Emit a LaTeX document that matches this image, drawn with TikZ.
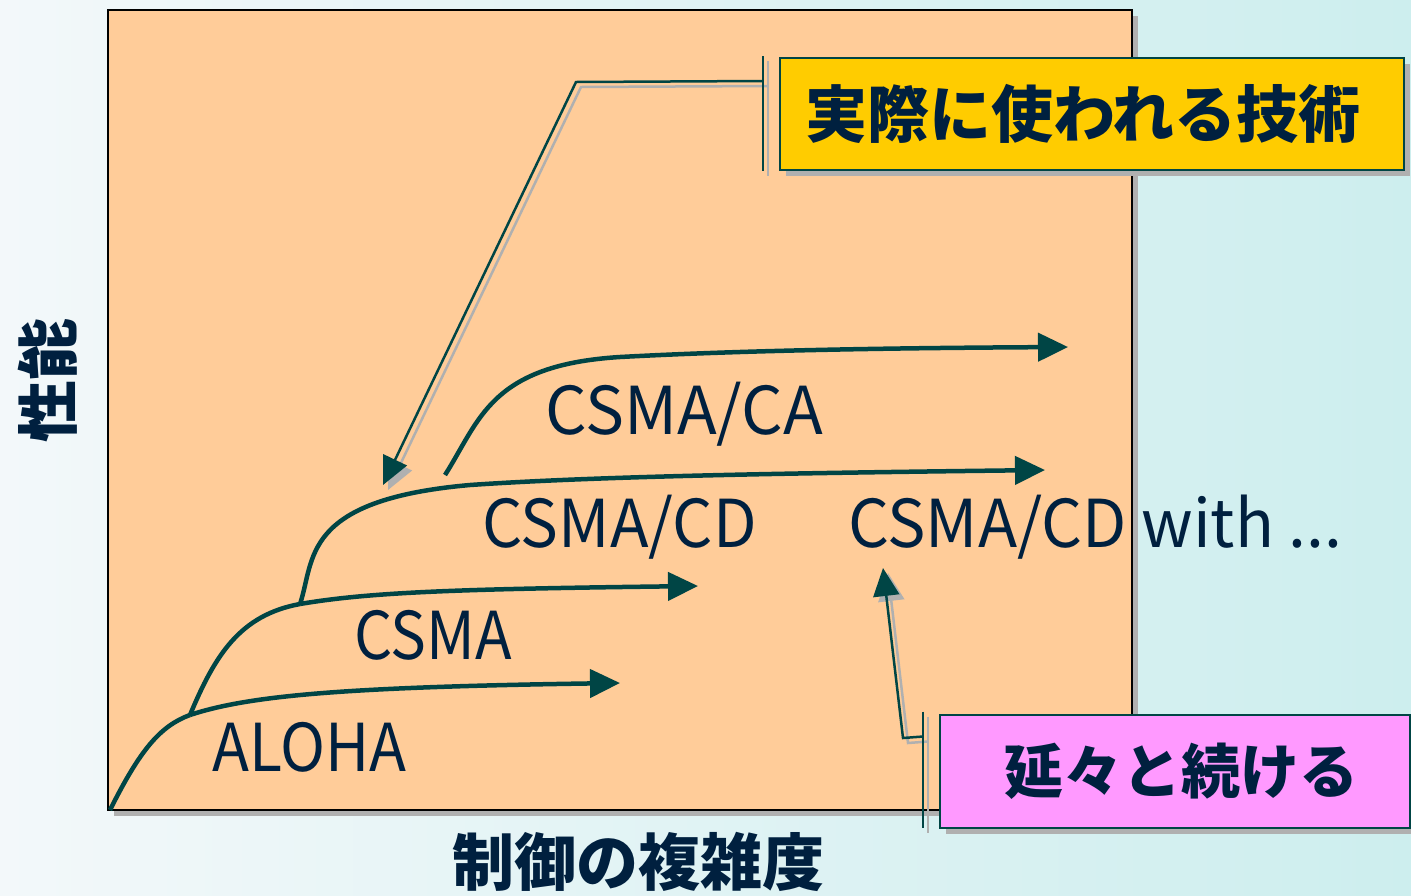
\documentclass[tikz,border=0pt]{standalone}
\usepackage{fontspec}
\setmainfont{Noto Sans CJK JP}
\usetikzlibrary{arrows.meta,calc}
\definecolor{bgl}{HTML}{F3F8FA}
\definecolor{bgr}{HTML}{CDEEEE}
\definecolor{peach}{HTML}{FFCC99}
\definecolor{linec}{HTML}{004545}
\definecolor{txtc}{HTML}{00203F}
\definecolor{shadowc}{HTML}{B0B0B0}
\definecolor{yel}{HTML}{FFCC00}
\definecolor{pink}{HTML}{FF99FF}
\tikzset{
  curve/.style={draw=linec, line width=4.5pt, -{Triangle[length=30pt,width=28pt]}},
  seg/.style={draw=linec, line width=4.5pt},
  lat/.style={text=txtc, inner sep=0pt, anchor=base west, font=\fontsize{66}{66}\selectfont},
  jp/.style={text=txtc, inner sep=0pt, font=\fontsize{62}{62}\selectfont\bfseries},
  callbox/.style={draw=linec, line width=2pt, inner sep=0pt},
  callline/.style={line width=2.5pt},
}
\begin{document}
\begin{tikzpicture}[x=1pt,y=-1pt]
\useasboundingbox (0,0) rectangle (1411,895);
\shade[left color=bgl, right color=bgr] (0,0) rectangle (1411,895);
% main panel
\fill[shadowc] (114,16) rectangle (1138,816);
\draw[fill=peach, line width=1.5pt] (108,10) rectangle (1132,810);
% curves
\coordinate (o) at (110,810);
\coordinate (a) at (190,715);
\coordinate (b) at (300,604);
\coordinate (ta) at (620,683);
\coordinate (tb) at (698,586);
\coordinate (tc) at (1045,470);
\coordinate (s4) at (445,475);
\coordinate (td) at (1068,347);
\draw[seg] (o) .. controls (140,750) and (160,726) .. (a);
\draw[curve] (a) .. controls (250,695) and (350,687) .. (ta);
\draw[seg] (a) .. controls (215,655) and (240,615) .. (b);
\draw[curve] (b) .. controls (370,592) and (460,589) .. (tb);
\draw[curve] (b) .. controls (315,560) and (300,500) .. (470,485) .. controls (600,476) and (800,473) .. (tc);
\draw[curve] (s4) .. controls (480,420) and (490,365) .. (620,357) .. controls (750,350) and (900,348) .. (td);
% labels
\node[lat, xscale=0.92] (aloha) at (212,771) {ALOHA};
\node[lat, xscale=0.91] (csma) at (354,659) {CSMA};
\node[lat, xscale=0.96] (cd) at (482,547) {CSMA/CD};
\node[lat, xscale=0.975] (cdw) at (848,547) {CSMA/CD with ...};
\node[lat, xscale=0.99] (ca) at (545,434) {CSMA/CA};
% callout boxes
\fill[shadowc] (786,64) rectangle (1410,176);
\node[callbox, fill=yel, minimum width=624pt, minimum height=112pt] (ybox) at (1092,114) {};
\node[jp] (ytext) at (1083,114) {実際に使われる技術};
\fill[shadowc] (946,721) rectangle (1416,834);
\node[callbox, fill=pink, minimum width=470pt, minimum height=113pt] (pbox) at (1175,771) {};
\node[jp, font=\fontsize{59}{59}\selectfont\bfseries] (ptext) at (1181,771) {延々と続ける};
% callout connectors
\coordinate (y1) at ($(ybox.north west)+(-16,-1)$);
\coordinate (y2) at ($(ybox.south west)+(-16,0)$);
\coordinate (y3) at ($(ybox.north west)+(-16,24)$);
\coordinate (y4) at (576,82);
\coordinate (ytip) at (383,485);
\coordinate (p1) at ($(pbox.north west)+(-16,-2)$);
\coordinate (p2) at ($(pbox.south west)+(-16,-1)$);
\coordinate (p3) at ($(pbox.north west)+(-16,23)$);
\coordinate (p4) at (903,738);
\coordinate (ptip) at (883,568);
\foreach \d/\c in {5/shadowc,0/linec}{
  \begin{scope}[transform canvas={shift={(\d,\d)}}]
    \draw[callline, draw=\c] (y1) -- (y2);
    \draw[callline, draw=\c, -{Triangle[length=28pt,width=26pt]}] (y3) -- (y4) -- (ytip);
    \draw[callline, draw=\c] (p1) -- (p2);
    \draw[callline, draw=\c, -{Triangle[length=28pt,width=26pt]}] (p3) -- (p4) -- (ptip);
  \end{scope}
}
% axis labels
\node[jp, rotate=90] (yl) at (48,380) {性能};
\node[jp] (xl) at (638,862) {制御の複雑度};
\end{tikzpicture}
\end{document}
